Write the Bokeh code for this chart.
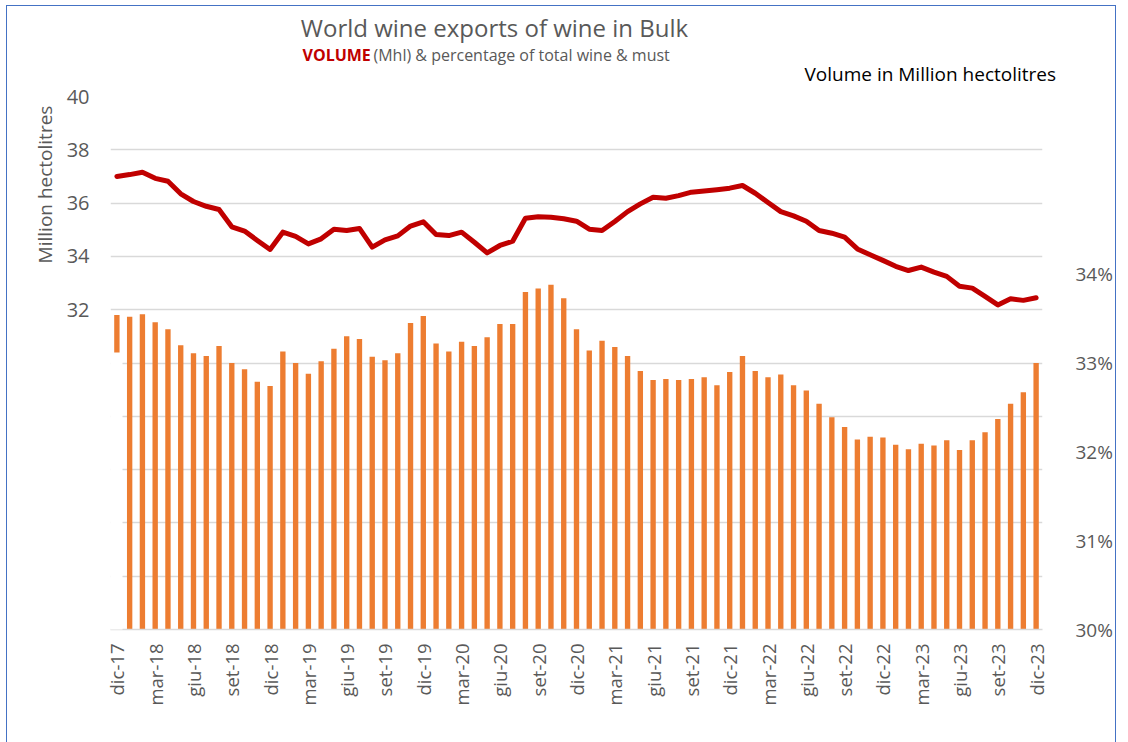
import math
from bokeh.plotting import figure
from bokeh.models import (Range1d, LinearAxis, FixedTicker, PrintfTickFormatter,
                          Label, BoxAnnotation, ColumnDataSource, InlineStyleSheet)
from bokeh.embed import file_html
from bokeh.resources import INLINE

# ---------------- data ----------------
month_abbr = ["gen", "feb", "mar", "apr", "mag", "giu", "lug", "ago", "set", "ott", "nov", "dic"]
months = ["dic-17"] + [f"{m}-{y}" for y in range(18, 24) for m in month_abbr]

volume = [37.00, 37.07, 37.16, 36.93, 36.82, 36.35, 36.06, 35.88, 35.76, 35.11,
          34.95, 34.60, 34.26, 34.91, 34.75, 34.47, 34.66, 35.02, 34.97, 35.05,
          34.35, 34.62, 34.77, 35.14, 35.30, 34.82, 34.78, 34.91, 34.53, 34.13,
          34.41, 34.57, 35.43, 35.49, 35.47, 35.41, 35.32, 35.02, 34.97, 35.31,
          35.68, 35.97, 36.22, 36.18, 36.28, 36.41, 36.45, 36.50, 36.56, 36.66,
          36.37, 36.02, 35.68, 35.52, 35.32, 34.97, 34.87, 34.72, 34.28, 34.06,
          33.85, 33.63, 33.47, 33.60, 33.41, 33.25, 32.88, 32.81, 32.50, 32.18,
          32.41, 32.35, 32.45]

share = [33.54, 33.52, 33.55, 33.46, 33.38, 33.20, 33.11, 33.08, 33.19, 33.00,
         32.93, 32.79, 32.74, 33.13, 33.00, 32.88, 33.02, 33.16, 33.30, 33.27,
         33.07, 33.03, 33.11, 33.45, 33.53, 33.22, 33.13, 33.24, 33.19, 33.29,
         33.44, 33.44, 33.80, 33.84, 33.88, 33.73, 33.38, 33.14, 33.25, 33.18,
         33.08, 32.91, 32.81, 32.82, 32.81, 32.82, 32.84, 32.75, 32.90, 33.08,
         32.91, 32.84, 32.87, 32.75, 32.69, 32.54, 32.39, 32.28, 32.14, 32.17,
         32.16, 32.08, 32.03, 32.09, 32.07, 32.13, 32.02, 32.13, 32.22, 32.37,
         32.54, 32.67, 33.00]

left_ticks = [32, 34, 36, 38, 40]
grid_ticks = [20, 22, 24, 26, 28, 30, 32, 34, 36, 38, 40]
right_ticks = [30, 31, 32, 33, 34]

# ---------------- figure ----------------
GREY = "#595959"
GRID = "#D9D9D9"
FONT = "Open Sans"

idx = list(range(len(months)))
src = ColumnDataSource(dict(x=idx, volume=volume, share=share, month=months))

p = figure(frame_width=932, frame_height=533,
           min_border_left=110, min_border_right=86, min_border_top=96, min_border_bottom=113,
           x_range=Range1d(-0.5, len(months) - 0.5), y_range=Range1d(20, 40),
           output_backend="svg", toolbar_location=None)
p.extra_y_ranges = {"pct": Range1d(30, 36)}
p.outline_line_color = None
p.background_fill_color = "white"
p.border_fill_color = "white"

# outer blue frame of the picture (decoration drawn by CSS)
p.stylesheets = [InlineStyleSheet(css="""
:host { position: relative; }
:host::after { content: ""; position: absolute; left: 6px; top: 5px; width: 1110px; height: 760px;
  border: 1.5px solid #4472C4; pointer-events: none; box-sizing: border-box; }
""")]

p.vbar(x="x", top="share", bottom=30, width=0.42, y_range_name="pct",
       fill_color="#ED7D31", line_color=None, source=src)
p.line(x="x", y="volume", line_width=5, line_color="#C00000",
       line_join="round", line_cap="round", source=src)

# x axis
xa = p.xaxis[0]
xa.ticker = FixedTicker(ticks=list(range(0, len(months), 3)))
xa.major_label_overrides = {i: months[i] for i in range(0, len(months), 3)}
xa.major_label_orientation = math.pi / 2
xa.major_label_text_font = FONT
xa.major_label_text_font_size = "18.5px"
xa.major_label_text_color = GREY
xa.major_label_standoff = 8
xa.axis_line_color = GRID
xa.axis_line_width = 1.5
xa.major_tick_line_color = None
xa.minor_tick_line_color = None

# left axis
ya = p.yaxis[0]
ya.ticker = FixedTicker(ticks=left_ticks)
ya.axis_line_color = None
ya.major_tick_line_color = None
ya.minor_tick_line_color = None
ya.major_label_text_font = FONT
ya.major_label_text_font_size = "20px"
ya.major_label_text_color = GREY
ya.major_label_standoff = 15

# right axis
ra = LinearAxis(y_range_name="pct", ticker=FixedTicker(ticks=right_ticks),
                formatter=PrintfTickFormatter(format="%d%%"))
ra.axis_line_color = None
ra.major_tick_line_color = None
ra.minor_tick_line_color = None
ra.major_label_text_font = FONT
ra.major_label_text_font_size = "19px"
ra.major_label_text_color = GREY
ra.major_label_standoff = 27
p.add_layout(ra, "right")

# grid
p.xgrid.visible = False
p.ygrid[0].ticker = FixedTicker(ticks=grid_ticks)
p.ygrid[0].grid_line_color = GRID
p.ygrid[0].grid_line_width = 1.5

# white patch that hides the lower part of the first bar (as in the reference)
p.add_layout(BoxAnnotation(left=100, right=122, top=352, bottom=631,
                           left_units="canvas", right_units="canvas",
                           top_units="canvas", bottom_units="canvas",
                           fill_color="white", fill_alpha=1.0, line_color=None))

# texts (placed in side panels so that they are not clipped to the frame;
# positions are absolute canvas coordinates, the panel only reserves room)
def lab(x, y, text, size, color, side, align="left", style="normal", angle=0):
    p.add_layout(Label(x=x, y=y, x_units="canvas", y_units="canvas", text=text,
                       text_font=FONT, text_font_size=size, text_color=color,
                       text_align=align, text_baseline="middle",
                       text_font_style=style, angle=angle), side)

lab(494, 27, "World wine exports of wine in Bulk", "24px", GREY, "above", align="center")
lab(302, 54, "VOLUME", "16px", "#C00000", "above", style="bold")
lab(373, 54, "(Mhl) & percentage of total wine & must", "16px", GREY, "below")
lab(804, 73, "Volume in Million hectolitres", "19px", "black", "above")
lab(44, 184, "Million hectolitres", "19px", GREY, "left", align="center", angle=math.pi / 2)

open("out.html", "w").write(file_html(p, INLINE))
